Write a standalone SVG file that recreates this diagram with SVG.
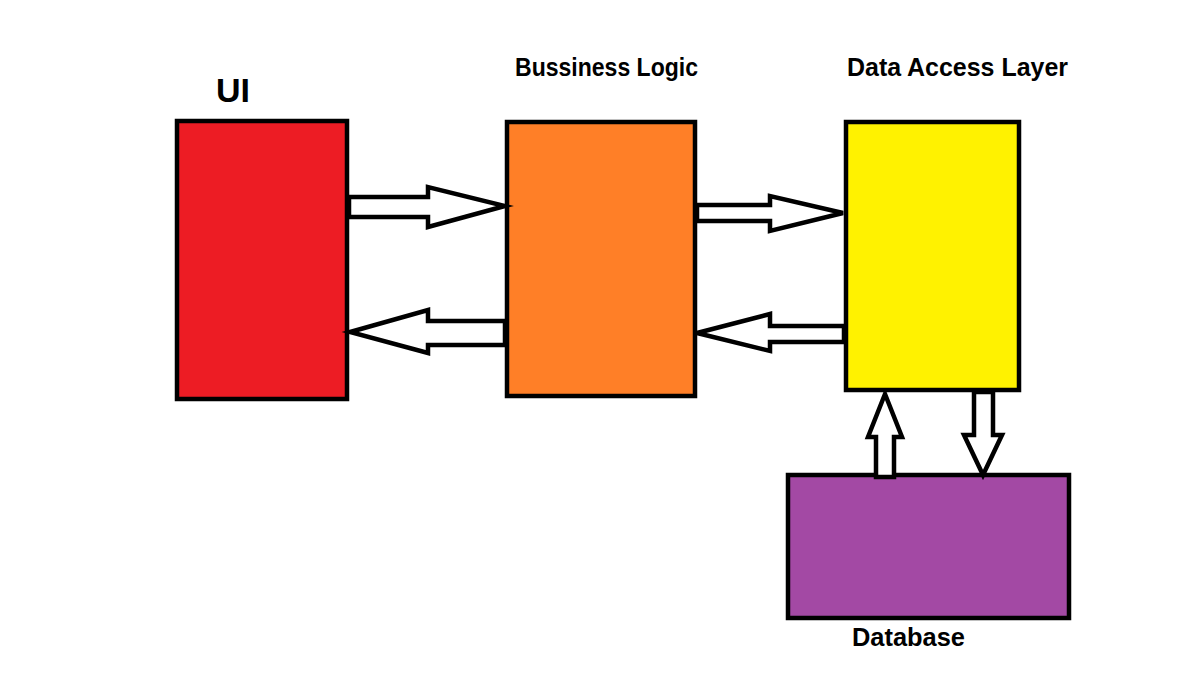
<svg xmlns="http://www.w3.org/2000/svg" width="1182" height="685" viewBox="0 0 1182 685">
  <style>
    .box { stroke: #000; stroke-width: 4.5; }
    .arrow { fill: #fff; stroke: #000; stroke-width: 4.5; stroke-linejoin: miter; }
    .label { font-family: "Liberation Sans", Arial, sans-serif; font-weight: bold; fill: #000; }
  </style>
  <rect x="0" y="0" width="1182" height="685" fill="#fff"/>

  <g id="ui">
    <rect class="box" x="177" y="121" width="170" height="278" fill="#ED1C24"/>
    <text class="label" x="216" y="102" font-size="34" textLength="34" lengthAdjust="spacingAndGlyphs">UI</text>
  </g>

  <g id="business-logic">
    <rect class="box" x="507" y="122" width="188" height="274" fill="#FF7F27"/>
    <text class="label" x="515" y="76" font-size="25" textLength="183" lengthAdjust="spacingAndGlyphs">Bussiness Logic</text>
  </g>

  <g id="data-access-layer">
    <rect class="box" x="846" y="122" width="173" height="268" fill="#FFF200"/>
    <text class="label" x="847" y="76" font-size="25" textLength="221" lengthAdjust="spacingAndGlyphs">Data Access Layer</text>
  </g>

  <g id="database">
    <rect class="box" x="788" y="475" width="281" height="143" fill="#A349A4"/>
    <text class="label" x="852" y="646" font-size="25" textLength="113" lengthAdjust="spacingAndGlyphs">Database</text>
  </g>

  <g id="connectors">
    <polygon class="arrow" points="349,197 428,197 428,187 505,206 428,227 428,217 349,217"/>
    <polygon class="arrow" points="505,321 428,321 428,310 350,332 428,353 428,345 505,345"/>
    <polygon class="arrow" points="697,205 770,205 770,196 843,213 770,231 770,221 697,221"/>
    <polygon class="arrow" points="844,326 770,326 770,314 697,333 770,351 770,342 844,342"/>
    <polygon class="arrow" points="876,477 876,437 868,437 885,394 902,437 894,437 894,477"/>
    <polygon class="arrow" points="974,392 974,435 964,435 983,475 1002,435 993,435 993,392"/>
  </g>
</svg>
